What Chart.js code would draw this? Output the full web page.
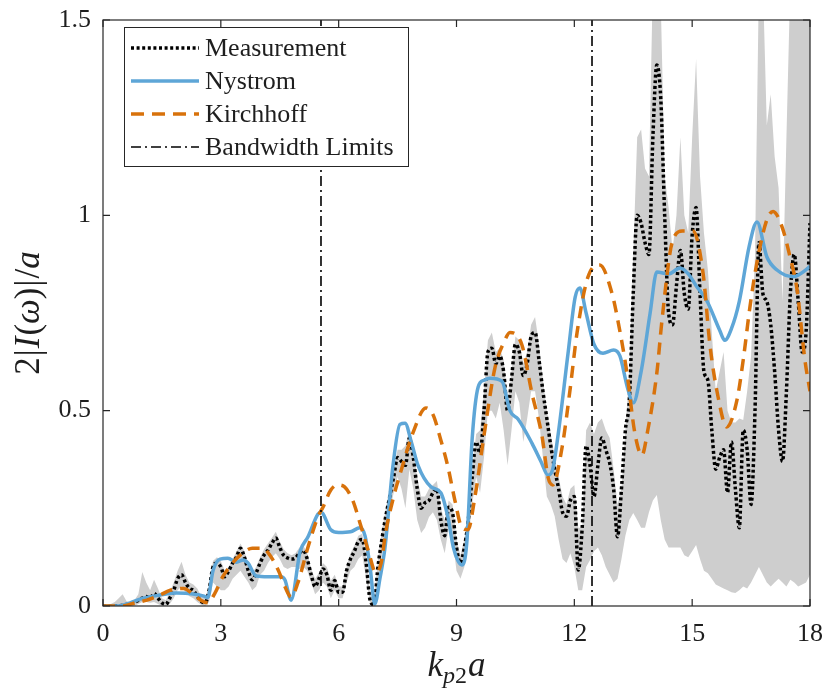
<!DOCTYPE html>
<html>
<head>
<meta charset="utf-8">
<script src="https://cdn.jsdelivr.net/npm/chart.js@4/dist/chart.umd.min.js"></script>
<style>
  body { margin: 0; background: #fff; }
  #wrap { width: 827px; height: 690px; position: relative; }
</style>
</head>
<body>
<div id="wrap"><canvas id="myChart"></canvas></div>
<script>
// axis ticks
const xTicks = [0, 3, 6, 9, 12, 15, 18];
const yTicks = [0, 0.5, 1, 1.5];

// measurement grid, 0 .. 18 in steps of 0.1
const measX = Array.from({ length: 181 }, (_, i) => i / 10);

const measY = [
  0, 0, 0, 0, 0, 0.002, 0.004, 0.006, 0.01, 0.014,
  0.02, 0.024, 0.02, 0.032, 0.02, 0.008, 0.004, 0.02, 0.04, 0.07,
  0.08, 0.06, 0.045, 0.04, 0.025, 0.012, 0.008, 0.04, 0.1, 0.11,
  0.1, 0.075, 0.09, 0.11, 0.125, 0.148, 0.125, 0.09, 0.067, 0.085,
  0.11, 0.13, 0.143, 0.16, 0.174, 0.15, 0.13, 0.123, 0.12, 0.123,
  0.135, 0.143, 0.12, 0.08, 0.05, 0.07, 0.095, 0.08, 0.04, 0.065,
  0.035, 0.035, 0.09, 0.12, 0.14, 0.165, 0.17, 0.11, 0.015, 0.003,
  0.1, 0.17, 0.23, 0.28, 0.33, 0.38, 0.37, 0.36, 0.43, 0.38,
  0.3, 0.25, 0.264, 0.27, 0.29, 0.3, 0.22, 0.18, 0.253, 0.238,
  0.15, 0.11, 0.15, 0.22, 0.33, 0.42, 0.39, 0.5, 0.65, 0.66,
  0.62, 0.64, 0.6, 0.5, 0.58, 0.67, 0.65, 0.59, 0.62, 0.69,
  0.7, 0.63, 0.55, 0.48, 0.41, 0.35, 0.3, 0.24, 0.23, 0.27,
  0.28, 0.092, 0.2, 0.41, 0.36, 0.28, 0.36, 0.43, 0.4, 0.366,
  0.3, 0.177, 0.3, 0.45, 0.527, 0.8, 1.0, 0.98, 0.93, 0.9,
  1.2, 1.385, 1.3, 1.0, 0.75, 0.72, 0.82, 0.91, 0.8, 0.76,
  0.95, 1.02, 0.8, 0.6, 0.578, 0.45, 0.35, 0.38, 0.4, 0.29,
  0.42, 0.3, 0.2, 0.45, 0.4, 0.26, 0.5, 0.93, 0.8, 0.78,
  0.72, 0.6, 0.45, 0.37, 0.55, 0.8, 0.9, 0.78, 0.65, 0.7,
  0.98
];

// grey spread of the measurement, same grid
const bandLower = [
  0, 0, 0, 0, 0, 0, 0, 0, 0, 0.005,
  0.01, 0.01, 0.008, 0.01, 0.005, 0, 0, 0.005, 0.02, 0.04,
  0.05, 0.035, 0.025, 0.02, 0.01, 0.003, 0, 0.01, 0.06, 0.05,
  0.04, 0.04, 0.05, 0.07, 0.08, 0.09, 0.075, 0.06, 0.04, 0.05,
  0.08, 0.09, 0.11, 0.125, 0.135, 0.12, 0.1, 0.095, 0.1, 0.1,
  0.095, 0.1, 0.09, 0.06, 0.03, 0.04, 0.06, 0.05, 0.02, 0.04,
  0.02, 0.02, 0.06, 0.09, 0.1, 0.12, 0.13, 0.07, 0.005, 0,
  0.06, 0.13, 0.19, 0.24, 0.29, 0.33, 0.3, 0.25, 0.35, 0.3,
  0.22, 0.187, 0.2, 0.228, 0.24, 0.22, 0.17, 0.135, 0.2, 0.17,
  0.09, 0.07, 0.1, 0.17, 0.26, 0.33, 0.29, 0.38, 0.5, 0.5,
  0.48, 0.52, 0.45, 0.36, 0.45, 0.55, 0.52, 0.42, 0.48, 0.55,
  0.55, 0.48, 0.38, 0.28, 0.26, 0.23, 0.17, 0.12, 0.11, 0.135,
  0.1, 0.04, 0.04, 0.1, 0.118, 0.14, 0.15, 0.13, 0.1, 0.08,
  0.06, 0.07, 0.12, 0.18, 0.22, 0.238, 0.22, 0.2, 0.2, 0.24,
  0.27, 0.284, 0.22, 0.17, 0.15, 0.15, 0.15, 0.15, 0.13, 0.125,
  0.14, 0.156, 0.12, 0.09, 0.084, 0.07, 0.055, 0.05, 0.045, 0.04,
  0.035, 0.033, 0.04, 0.05, 0.045, 0.06, 0.08, 0.1, 0.08, 0.06,
  0.05, 0.06, 0.07, 0.06, 0.05, 0.067, 0.06, 0.05, 0.055, 0.06,
  0.08
];
const bandUpper = [
  0.003, 0.003, 0.005, 0.01, 0.02, 0.03, 0.012, 0.01, 0.015, 0.03,
  0.087, 0.06, 0.04, 0.067, 0.045, 0.02, 0.015, 0.035, 0.06, 0.09,
  0.113, 0.08, 0.06, 0.055, 0.045, 0.025, 0.02, 0.05, 0.115, 0.125,
  0.115, 0.09, 0.1, 0.12, 0.14, 0.16, 0.14, 0.11, 0.085, 0.1,
  0.125, 0.145, 0.16, 0.175, 0.19, 0.165, 0.145, 0.135, 0.13, 0.135,
  0.15, 0.155, 0.135, 0.095, 0.07, 0.085, 0.11, 0.1, 0.065, 0.08,
  0.05, 0.05, 0.1, 0.135, 0.155, 0.18, 0.185, 0.13, 0.03, 0.015,
  0.12, 0.19, 0.25, 0.3, 0.35, 0.4, 0.4, 0.41, 0.45, 0.4,
  0.33, 0.28, 0.28, 0.3, 0.31, 0.32, 0.25, 0.22, 0.27, 0.26,
  0.17, 0.13, 0.17, 0.24, 0.35, 0.44, 0.45, 0.55, 0.68, 0.7,
  0.65, 0.66, 0.63, 0.52, 0.6, 0.69, 0.68, 0.62, 0.65, 0.72,
  0.74, 0.67, 0.58, 0.5, 0.44, 0.38, 0.33, 0.28, 0.26, 0.3,
  0.31, 0.2, 0.2, 0.45, 0.47, 0.44, 0.47, 0.48, 0.45, 0.43,
  0.35, 0.26, 0.3, 0.45, 0.6, 0.9, 1.2, 1.22, 1.12, 1.1,
  1.6, 1.6, 1.55, 1.1, 1.02, 0.91, 1.0, 1.2, 1.0, 0.955,
  1.2, 1.4, 1.1, 0.955, 0.86, 0.7, 0.55, 0.6, 0.65, 0.5,
  0.47, 0.47, 0.48, 0.476, 0.55, 0.64, 0.9, 1.6, 1.6, 1.23,
  1.31, 1.15, 1.07, 0.78, 1.2, 1.6, 1.6, 1.6, 1.6, 1.6,
  1.6
];

// Nystrom model
const nysX = [0, 0.4, 0.69, 1.02, 1.45, 1.88, 2.29, 2.55, 2.67, 2.8, 2.98, 3.18, 3.4, 3.57, 3.69, 3.9, 4.2, 4.53, 4.63, 4.79,
  5.02, 5.22, 5.47, 5.55, 5.8, 6.0, 6.3, 6.54, 6.67, 6.8, 6.92, 7.05, 7.18, 7.38, 7.56, 7.69, 7.85, 8.02, 8.35, 8.6,
  8.78, 8.92, 9.04, 9.14, 9.26, 9.4, 9.55, 9.7, 9.85, 10.16, 10.36, 10.57, 10.92, 11.15, 11.33, 11.45, 11.58, 11.84, 12.02, 12.14,
  12.3, 12.5, 12.73, 13.0, 13.16, 13.35, 13.5, 13.7, 13.93, 14.1, 14.4, 14.69, 14.9, 15.1, 15.38, 15.7, 15.83, 16.0, 16.2, 16.45,
  16.65, 16.9, 17.16, 17.57, 17.95, 18];
const nysY = [0, 0, 0.008, 0.02, 0.028, 0.033, 0.031, 0.026, 0.022, 0.09, 0.12, 0.122, 0.112, 0.118, 0.11, 0.077, 0.075, 0.075, 0.067, 0.015,
  0.14, 0.177, 0.235, 0.24, 0.195, 0.188, 0.19, 0.2, 0.18, 0.1, 0.005, 0.07, 0.15, 0.357, 0.465, 0.468, 0.42, 0.36, 0.305, 0.29,
  0.228, 0.15, 0.115, 0.105, 0.16, 0.43, 0.56, 0.578, 0.583, 0.575, 0.5, 0.478, 0.417, 0.37, 0.335, 0.35, 0.433, 0.647, 0.79, 0.814,
  0.75, 0.67, 0.647, 0.655, 0.64, 0.56, 0.52, 0.6, 0.75, 0.855, 0.85, 0.865, 0.85, 0.82, 0.78, 0.706, 0.68, 0.71, 0.78, 0.92,
  0.983, 0.894, 0.86, 0.843, 0.865, 0.87];

// Kirchhoff model
const kirX = [0, 0.5, 0.81, 1.12, 1.45, 1.7, 2.05, 2.3, 2.5, 2.67, 2.85, 3.05, 3.3, 3.55, 3.8, 4.07, 4.25, 4.46, 4.63, 4.79,
  4.96, 5.22, 5.47, 5.6, 5.8, 5.98, 6.15, 6.36, 6.55, 6.75, 6.95, 7.08, 7.2, 7.4, 7.6, 7.89, 8.22, 8.4, 8.6, 8.78,
  8.96, 9.14, 9.29, 9.47, 9.72, 9.98, 10.23, 10.36, 10.66, 10.92, 11.18, 11.33, 11.45, 11.69, 11.89, 12.07, 12.34, 12.65, 12.96, 13.11,
  13.34, 13.54, 13.72, 13.87, 14.1, 14.23, 14.49, 14.75, 15.02, 15.28, 15.45, 15.66, 15.88, 16.14, 16.3, 16.47, 16.65, 16.9, 17.06, 17.29,
  17.49, 17.67, 17.87, 18];
const kirY = [0, 0, 0.008, 0.015, 0.028, 0.04, 0.045, 0.03, 0.014, 0.008, 0.033, 0.075, 0.11, 0.135, 0.148, 0.148, 0.13, 0.092, 0.05, 0.023,
  0.059, 0.151, 0.228, 0.253, 0.297, 0.31, 0.305, 0.27, 0.21, 0.143, 0.085, 0.11, 0.19, 0.28, 0.35, 0.443, 0.507, 0.49, 0.425, 0.357,
  0.27, 0.2, 0.195, 0.28, 0.45, 0.61, 0.68, 0.7, 0.67, 0.545, 0.433, 0.33, 0.31, 0.407, 0.553, 0.7, 0.84, 0.873, 0.8, 0.73,
  0.596, 0.443, 0.386, 0.45, 0.596, 0.73, 0.93, 0.96, 0.96, 0.85, 0.67, 0.535, 0.458, 0.527, 0.63, 0.765, 0.88, 0.988, 1.01, 0.97,
  0.894, 0.81, 0.63, 0.55];

// bandwidth limits (k_p2 a)
const bandLimits = [5.55, 12.45];

const BLUE = '#5ea6d7';
const ORANGE = '#d8720b';
const GREY = 'rgb(206,206,206)';
const INK = '#1e1e1e';
const SERIF = '"Liberation Serif", "Times New Roman", serif';

const pts = (xs, ys) => xs.map((x, i) => ({ x: x, y: ys[i] }));

const datasets = [
  { label: 'lower', data: pts(measX, bandLower), borderWidth: 0, borderColor: 'rgba(0,0,0,0)',
    pointRadius: 0, fill: false, order: 6 },
  { label: 'upper', data: pts(measX, bandUpper), borderWidth: 0, borderColor: 'rgba(0,0,0,0)',
    pointRadius: 0, fill: { target: 0 }, backgroundColor: GREY, order: 5 },
  { label: 'Measurement', data: pts(measX, measY), borderColor: '#000', borderWidth: 3.5,
    borderDash: [3, 2.6], pointRadius: 0, cubicInterpolationMode: 'monotone', order: 4 },
  { label: 'Nystrom', data: pts(nysX, nysY), borderColor: BLUE, borderWidth: 3.5,
    pointRadius: 0, cubicInterpolationMode: 'monotone', order: 3 },
  { label: 'Kirchhoff', data: pts(kirX, kirY), borderColor: ORANGE, borderWidth: 3.5,
    borderDash: [12, 8], pointRadius: 0, cubicInterpolationMode: 'monotone', order: 2 }
];
bandLimits.forEach(b => datasets.push({
  label: 'Bandwidth Limits', data: [{ x: b, y: yTicks[0] }, { x: b, y: yTicks[yTicks.length - 1] }],
  borderColor: '#000', borderWidth: 1.6, borderDash: [10, 4, 2, 4], pointRadius: 0, order: 1
}));

// draws a run of text pieces with different fonts, centred on cx
function drawRuns(ctx, runs, cx, baseline) {
  let w = 0;
  runs.forEach(r => { ctx.font = r.f; w += ctx.measureText(r.t).width + (r.gap || 0); });
  let x = cx - w / 2;
  ctx.textAlign = 'left';
  ctx.textBaseline = 'alphabetic';
  runs.forEach(r => {
    ctx.font = r.f;
    ctx.fillText(r.t, x, baseline + (r.dy || 0));
    x += ctx.measureText(r.t).width + (r.gap || 0);
  });
}

const framePlugin = {
  id: 'frame',
  afterDatasetsDraw(chart) {
    const { ctx, chartArea: a, scales } = chart;
    ctx.save();
    ctx.strokeStyle = '#262626';
    ctx.lineWidth = 1.2;
    ctx.setLineDash([]);
    ctx.strokeRect(a.left, a.top, a.right - a.left, a.bottom - a.top);
    const tl = 7;
    ctx.beginPath();
    xTicks.forEach(v => {
      const px = scales.x.getPixelForValue(v);
      ctx.moveTo(px, a.bottom); ctx.lineTo(px, a.bottom - tl);
      ctx.moveTo(px, a.top); ctx.lineTo(px, a.top + tl);
    });
    yTicks.forEach(v => {
      const py = scales.y.getPixelForValue(v);
      ctx.moveTo(a.left, py); ctx.lineTo(a.left + tl, py);
      ctx.moveTo(a.right, py); ctx.lineTo(a.right - tl, py);
    });
    ctx.stroke();
    ctx.restore();
  },
  afterDraw(chart) {
    const { ctx, chartArea: a } = chart;
    ctx.save();
    // legend box
    const lx = 124, ly = 27, lw = 284, lh = 139;
    ctx.fillStyle = '#fff';
    ctx.fillRect(lx, ly, lw, lh);
    ctx.strokeStyle = '#262626';
    ctx.lineWidth = 1;
    ctx.setLineDash([]);
    ctx.strokeRect(lx + 0.5, ly + 0.5, lw, lh);
    const rows = [
      { name: 'Measurement', color: '#000', w: 3.5, dash: [3, 2.6] },
      { name: 'Nystrom', color: BLUE, w: 3.5, dash: [] },
      { name: 'Kirchhoff', color: ORANGE, w: 3.5, dash: [13, 8] },
      { name: 'Bandwidth Limits', color: '#000', w: 1.6, dash: [10, 4, 2, 4] }
    ];
    rows.forEach((r, i) => {
      const y = 48 + i * 33;
      ctx.beginPath();
      ctx.strokeStyle = r.color;
      ctx.lineWidth = r.w;
      ctx.setLineDash(r.dash);
      ctx.moveTo(131, y); ctx.lineTo(199, y);
      ctx.stroke();
      ctx.setLineDash([]);
      ctx.fillStyle = INK;
      ctx.font = '26px ' + SERIF;
      ctx.textAlign = 'left';
      ctx.textBaseline = 'middle';
      ctx.fillText(r.name, 205, y + 1);
    });

    // axis titles
    ctx.fillStyle = INK;
    const big = '35px ' + SERIF, bigI = 'italic 35px ' + SERIF;
    const smI = 'italic 24px ' + SERIF, sm = '24px ' + SERIF;
    drawRuns(ctx, [
      { t: 'k', f: bigI }, { t: 'p', f: smI, dy: 7 }, { t: '2', f: sm, dy: 7, gap: 1 }, { t: 'a', f: bigI }
    ], (a.left + a.right) / 2, 676);

    ctx.translate(39, (a.top + a.bottom) / 2);
    ctx.rotate(-Math.PI / 2);
    drawRuns(ctx, [
      { t: '2', f: big, gap: 1 }, { t: '|', f: big, gap: 1 }, { t: 'I', f: bigI, gap: 1 }, { t: '(', f: big },
      { t: 'ω', f: bigI }, { t: ')', f: big, gap: 1 }, { t: '|', f: big, gap: 1 }, { t: '/', f: big }, { t: 'a', f: bigI }
    ], 0, 0);
    ctx.restore();
  }
};

const ctx = document.getElementById('myChart').getContext('2d');
const myChart = new Chart(ctx, {
  type: 'line',
  data: { datasets: datasets },
  options: {
    responsive: true,
    maintainAspectRatio: false,
    animation: false,
    layout: { padding: { top: 20, right: 17, left: 0, bottom: 0 } },
    plugins: { legend: { display: false }, tooltip: { enabled: false } },
    scales: {
      x: {
        type: 'linear', min: 0, max: 18,
        afterBuildTicks: s => { s.ticks = xTicks.map(v => ({ value: v })); },
        afterFit: s => { s.height = 84; s.paddingLeft = 0; s.paddingRight = 0; },
        grid: { display: false }, border: { display: false },
        ticks: { color: INK, font: { family: SERIF, size: 26 }, padding: 5, maxRotation: 0,
          callback: v => String(v) }
      },
      y: {
        min: 0, max: 1.5,
        afterBuildTicks: s => { s.ticks = yTicks.map(v => ({ value: v })); },
        afterFit: s => { s.width = 103; s.paddingTop = 0; s.paddingBottom = 0; },
        grid: { display: false }, border: { display: false },
        ticks: { color: INK, font: { family: SERIF, size: 26 }, padding: 4,
          callback: v => String(v) }
      }
    }
  },
  plugins: [framePlugin]
});
</script>
</body>
</html>
